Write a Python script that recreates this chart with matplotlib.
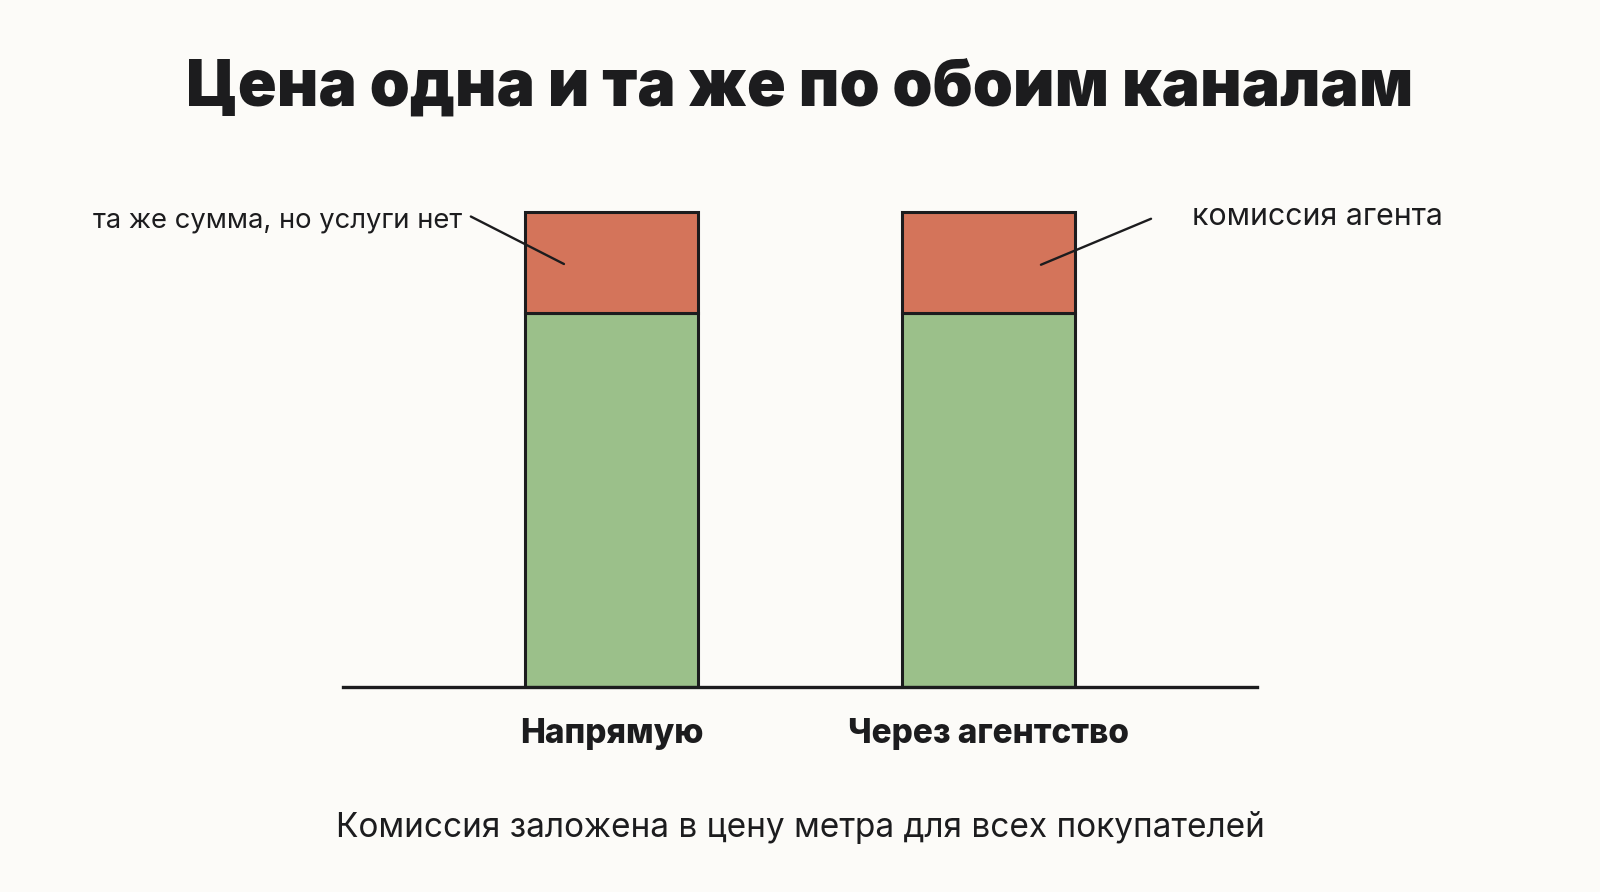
import numpy as np
import matplotlib.pyplot as plt

# data
channels = ["Напрямую", "Через агентство"]
base_price = [100, 100]
commission = [27, 27]

title = "Цена одна и та же по обоим каналам"
subtitle = "Комиссия заложена в цену метра для всех покупателей"
note_left = "та же сумма, но услуги нет"
note_right = "комиссия агента"

bg = "#fcfbf8"
green = "#9bc08a"
red = "#d4745a"
ink = "#1c1c1e"

plt.rcParams['font.family'] = ['Inter', 'DejaVu Sans']

fig = plt.figure(figsize=(16, 8.92), dpi=100, facecolor=bg)
W, H = 1600, 892
# axes: baseline at y=687px, spanning x 343..1257
ax = fig.add_axes([343 / W, (H - 687) / H, (1257 - 343) / W, (687 - 150) / H])
ax.set_facecolor(bg)

x = np.arange(len(channels))
bw = 0.46
ax.bar(x, base_price, bw, color=green, edgecolor=ink, linewidth=2.2, zorder=2)
ax.bar(x, commission, bw, bottom=base_price, color=red, edgecolor=ink,
       linewidth=2.2, zorder=2)

ax.set_xlim(-0.712, 1.712)
ax.set_ylim(0, 100 * 537 / 374)

for s in ["top", "left", "right"]:
    ax.spines[s].set_visible(False)
ax.spines["bottom"].set_linewidth(2.4)
ax.spines["bottom"].set_color(ink)
ax.set_yticks([])
ax.set_xticks(x)
ax.set_xticklabels(channels, fontsize=24, fontweight="heavy", color=ink)
ax.tick_params(axis="x", length=0, pad=22)

# leader lines
top0 = base_price[0] + commission[0]
ax.annotate("", xy=(-0.126, top0 - 13.9), xytext=(-0.373, top0 - 1.2),
            arrowprops=dict(arrowstyle="-", color=ink, lw=1.7,
                            shrinkA=0, shrinkB=0))
ax.text(-0.397, top0 - 2.3, note_left, ha="right", va="center",
        fontsize=19.7, color=ink)

ax.annotate("", xy=(1 + 0.139, top0 - 14.1), xytext=(1 + 0.431, top0 - 1.8),
            arrowprops=dict(arrowstyle="-", color=ink, lw=1.7,
                            shrinkA=0, shrinkB=0))
ax.text(1 + 0.54, top0 - 1.2, note_right, ha="left", va="center",
        fontsize=21.8, color=ink)

fig.text(0.5, 1 - 89 / H, title, ha="center", va="center", fontsize=46.2,
         fontweight="black", color=ink)
fig.text(0.5, 1 - 827 / H, subtitle, ha="center", va="center", fontsize=24,
         color=ink)

fig.savefig("out.png", dpi=100, facecolor=bg)
